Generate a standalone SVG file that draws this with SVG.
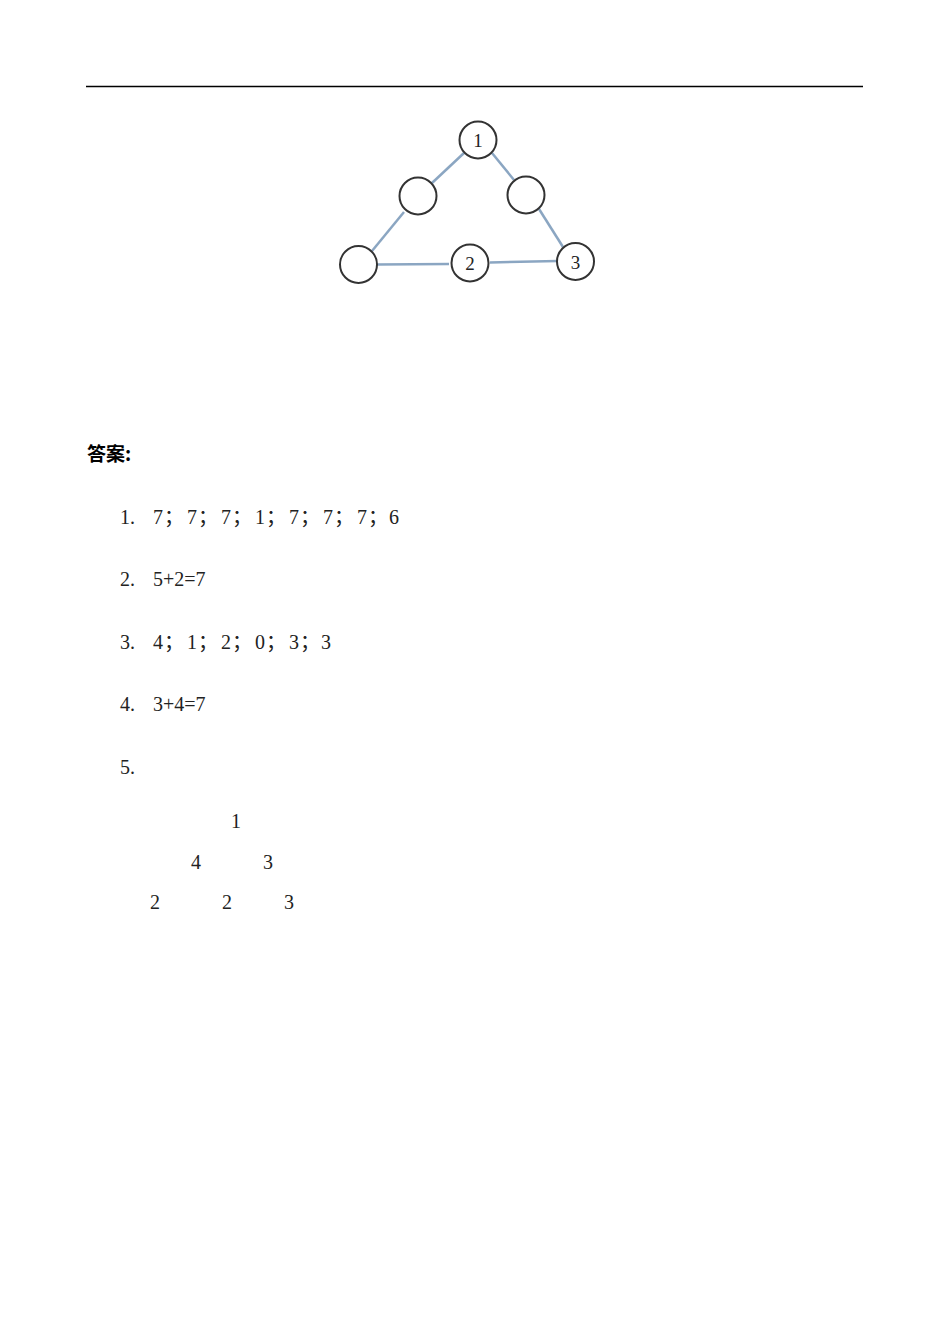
<svg xmlns="http://www.w3.org/2000/svg" width="950" height="1344" viewBox="0 0 950 1344">
<style>
.node circle{fill:#fff;stroke:#333;stroke-width:2}
.node text{font-family:"Liberation Serif","DejaVu Serif",serif;font-size:19px;fill:#222;text-anchor:middle}
.edge{stroke:#8ba6c2;stroke-width:2.5;fill:none}
.t{font-family:"Liberation Serif","Noto Sans CJK SC",serif;font-size:20px;fill:#222}
.cn{font-family:"Noto Sans CJK SC","Liberation Sans",sans-serif;font-size:19px;font-weight:bold;fill:#000}
</style>
<rect width="950" height="1344" fill="#fff"/>
<line x1="86" y1="86.5" x2="863" y2="86.5" stroke="#000" stroke-width="1.6"/>
<g id="connectors">
<line class="edge" x1="464" y1="153" x2="432" y2="183"/>
<line class="edge" x1="492" y1="153" x2="514" y2="180"/>
<line class="edge" x1="404" y1="212" x2="372" y2="251"/>
<line class="edge" x1="539" y1="209" x2="563" y2="247"/>
<line class="edge" x1="377" y1="264.5" x2="449" y2="264"/>
<line class="edge" x1="490" y1="262.5" x2="558" y2="261"/>
</g>
<g id="n1" class="node"><circle cx="478" cy="140" r="18.5"/><text x="478" y="147">1</text></g>
<g id="n_lm" class="node"><circle cx="418" cy="196" r="18.5"/></g>
<g id="n_rm" class="node"><circle cx="526" cy="195" r="18.5"/></g>
<g id="n_bl" class="node"><circle cx="358.5" cy="264.5" r="18.5"/></g>
<g id="n2" class="node"><circle cx="470" cy="263" r="18.5"/><text x="470" y="270">2</text></g>
<g id="n3" class="node"><circle cx="575.5" cy="261.5" r="18.5"/><text x="575.5" y="268.5">3</text></g>
<text class="cn" x="87" y="461">答案:</text>
<text class="t" y="524"><tspan x="120">1.</tspan><tspan x="153">7</tspan><tspan x="164">；</tspan><tspan x="187">7</tspan><tspan x="198">；</tspan><tspan x="221">7</tspan><tspan x="232">；</tspan><tspan x="255">1</tspan><tspan x="266">；</tspan><tspan x="289">7</tspan><tspan x="300">；</tspan><tspan x="323">7</tspan><tspan x="334">；</tspan><tspan x="357">7</tspan><tspan x="368">；</tspan><tspan x="389">6</tspan></text>
<text class="t" y="586"><tspan x="120">2.</tspan><tspan x="153">5+2=7</tspan></text>
<text class="t" y="649"><tspan x="120">3.</tspan><tspan x="153">4</tspan><tspan x="164">；</tspan><tspan x="187">1</tspan><tspan x="198">；</tspan><tspan x="221">2</tspan><tspan x="232">；</tspan><tspan x="255">0</tspan><tspan x="266">；</tspan><tspan x="289">3</tspan><tspan x="300">；</tspan><tspan x="321">3</tspan></text>
<text class="t" y="711"><tspan x="120">4.</tspan><tspan x="153">3+4=7</tspan></text>
<text class="t" y="774"><tspan x="120">5.</tspan></text>
<text class="t" y="828"><tspan x="231">1</tspan></text>
<text class="t" y="869"><tspan x="191">4</tspan><tspan x="263">3</tspan></text>
<text class="t" y="909"><tspan x="150">2</tspan><tspan x="222">2</tspan><tspan x="284">3</tspan></text>
</svg>
